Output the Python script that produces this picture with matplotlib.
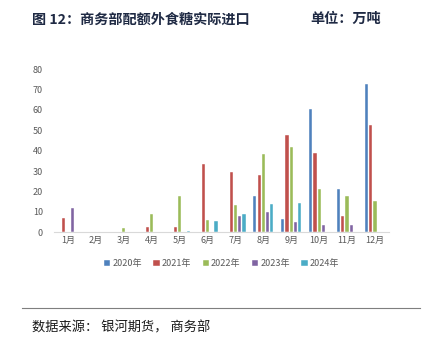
import numpy as np
import matplotlib.pyplot as plt

plt.rcParams['font.family'] = ['Noto Sans CJK SC', 'DejaVu Sans']

months = ['1月', '2月', '3月', '4月', '5月', '6月', '7月', '8月', '9月', '10月', '11月', '12月']
years = ['2020年', '2021年', '2022年', '2023年', '2024年']
nan = np.nan
v2020 = [nan, nan, nan, nan, nan, nan, nan, 18.0, 6.6, 60.3, 21.3, 72.9]
v2021 = [7.0, nan, nan, 2.5, 2.8, 33.6, 29.5, 28.2, 47.5, 39.0, 8.0, 52.8]
v2022 = [nan, nan, 2.3, 9.0, 18.0, 5.9, 13.4, 38.4, 42.0, 21.0, 18.0, 15.4]
v2023 = [12.0, nan, nan, nan, nan, nan, 8.2, 9.7, 4.9, 3.4, 3.4, nan]
v2024 = [nan, nan, nan, nan, 0.7, 5.6, 8.7, 13.8, 14.3, nan, nan, nan]
series = [v2020, v2021, v2022, v2023, v2024]
colors = ['#4F81BD', '#C0504D', '#9BBB59', '#8064A2', '#4BACC6']


def main():
    fig = plt.figure(figsize=(4.26, 3.39), dpi=100)
    ax = fig.add_axes([0.127, 0.315, 0.786, 0.481])

    x = np.arange(len(months))
    step = 0.152
    for i, (vals, c, lab) in enumerate(zip(series, colors, years)):
        ax.bar(x + (i - 2) * step, vals, width=0.115, color=c, label=lab,
               edgecolor='white', linewidth=0.3)

    ax.set_xlim(-0.5, 11.5)
    ax.set_ylim(0, 80)
    ax.set_yticks(range(0, 81, 10))
    ax.set_xticks(x)
    ax.set_xticklabels(months)
    for s in ['top', 'right', 'left']:
        ax.spines[s].set_visible(False)
    ax.spines['bottom'].set_color('#D9D9D9')
    ax.spines['bottom'].set_linewidth(0.8)
    ax.tick_params(axis='both', length=0, labelsize=6.5, colors='#595959', pad=3)
    ax.tick_params(axis='y', pad=8)

    ax.legend(loc='upper center', bbox_to_anchor=(0.5, -0.115), ncol=5,
              frameon=False, fontsize=6.5, handlelength=0.7, handleheight=0.7,
              handletextpad=0.2, columnspacing=1.3, labelcolor='#595959')

    fig.text(0.075, 0.943, '图 12：商务部配额外食糖实际进口', fontsize=10.2,
             fontweight='bold', color='#1F2A44', va='center')
    fig.text(0.728, 0.943, '单位：万吨', fontsize=10.2, fontweight='bold',
             color='#1F2A44', va='center')
    fig.add_artist(plt.Line2D([0.052, 0.985], [0.092, 0.092], color='#7F7F7F',
                              linewidth=0.8, transform=fig.transFigure))
    fig.text(0.075, 0.032, '数据来源： 银河期货， 商务部', fontsize=9.5,
             color='#1A1A1A', va='center')

    fig.savefig('out.png', dpi=100)


if __name__ == '__main__':
    main()
